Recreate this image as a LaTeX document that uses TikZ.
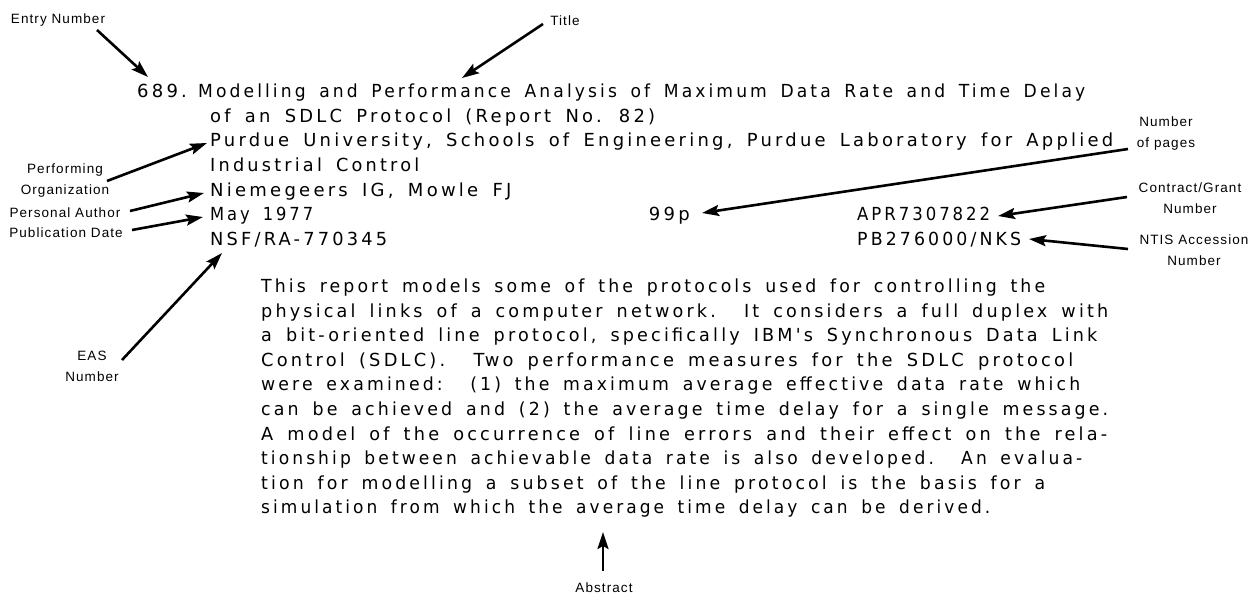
\documentclass[tikz,border=0pt]{standalone}
\usepackage{fontspec}
\usepackage{graphicx}
\setmainfont{DejaVu Sans}
\newfontfamily\typedfont[LetterSpace=18,WordSpace=1.6]{DejaVu Sans}
\newfontfamily\labfont[LetterSpace=8]{Liberation Sans}
\newcommand\fitw[2]{\resizebox{#1pt}{\height}{#2}}
\usetikzlibrary{arrows.meta,calc}
\begin{document}
\begin{tikzpicture}[x=1pt,y=-1pt,
  typed/.style={anchor=base west, inner sep=0pt, font=\typedfont\fontsize{18}{20}\selectfont},
  lab/.style={inner sep=0pt, font=\labfont\fontsize{13.5}{21}\selectfont, align=center},
  arr/.style={line width=2.6pt, -{Stealth[length=17pt,width=11pt,inset=3pt]}},
]
\useasboundingbox (0,0) rectangle (1251,594);

% main entry block
\node[typed] (entry)    at (137,97.5)  {689.};
\node[typed] (title1)   at (198,97.5)  {\fitw{887}{Modelling and Performance Analysis of Maximum Data Rate and Time Delay}};
\node[typed] (title2)   at (210,122.2) {\fitw{445}{of an SDLC Protocol (Report No. 82)}};
\node[typed] (org1)     at (210,146.8) {\fitw{903}{Purdue University, Schools of Engineering, Purdue Laboratory for Applied}};
\node[typed] (org2)     at (210,171.5) {\fitw{209}{Industrial Control}};
\node[typed] (auth)     at (210,196.2) {Niemegeers IG, Mowle FJ};
\node[typed] (date)     at (210,220.8) {\fitw{103}{May 1977}};
\node[typed,anchor=base east] (pages) at (690,220.8) {99p};
\node[typed] (contract) at (857,220.8) {\fitw{133}{APR7307822}};
\node[typed] (eas)      at (210,245.5) {\fitw{177}{NSF/RA-770345}};
\node[typed] (ntis)     at (857,245.5) {\fitw{164}{PB276000/NKS}};

% abstract
\node[typed] (abs1)  at (261,292.5) {\fitw{784}{This report models some of the protocols used for controlling the}};
\node[typed] (abs2)  at (261,317.1) {\fitw{847}{physical links of a computer network.\ \ It considers a full duplex with}};
\node[typed] (abs3)  at (261,341.7) {\fitw{836}{a bit-oriented line protocol, specifically IBM's Synchronous Data Link}};
\node[typed] (abs4)  at (261,366.3) {\fitw{812}{Control (SDLC).\ \ Two performance measures for the SDLC protocol}};
\node[typed] (abs5)  at (261,390.9) {\fitw{819}{were examined:\ \ (1) the maximum average effective data rate which}};
\node[typed] (abs6)  at (261,415.5) {\fitw{847}{can be achieved and (2) the average time delay for a single message.}};
\node[typed] (abs7)  at (261,440.1) {\fitw{846}{A model of the occurrence of line errors and their effect on the rela-}};
\node[typed] (abs8)  at (261,464.7) {\fitw{821}{tionship between achievable data rate is also developed.\ \ An evalua-}};
\node[typed] (abs9)  at (261,489.3) {\fitw{784}{tion for modelling a subset of the line protocol is the basis for a}};
\node[typed] (abs10) at (261,513.9) {\fitw{729}{simulation from which the average time delay can be derived.}};

% labels
\node[lab] (lEntry)    at (58,20)    {Entry Number};
\node[lab] (lTitle)    at (565,21)   {Title};
\node[lab] (lOrg)      at (65,181)   {Performing\\Organization};
\node[lab] (lAuth)     at (65,213)   {Personal Author};
\node[lab] (lDate)     at (66,233)   {Publication Date};
\node[lab] (lEAS)      at (92,366)   {EAS\\Number};
\node[lab] (lPages)    at (1166,134) {Number\\of pages};
\node[lab] (lContract) at (1190,198) {Contract/Grant\\Number};
\node[lab] (lNTIS)     at (1194,250) {NTIS Accession\\Number};
\node[lab] (lAbs)      at (604,588)  {Abstract};

% arrow end points
\coordinate (sEntry) at (97,30);      \coordinate (tEntry) at (148,77);
\coordinate (sTitle) at (543,24);     \coordinate (tTitle) at (462,78);
\coordinate (sOrg) at (107,181);      \coordinate (tOrg) at (207,143);
\coordinate (sAuth) at (130,211);     \coordinate (tAuth) at (204,193);
\coordinate (sDate) at (132,230);     \coordinate (tDate) at (203,217);
\coordinate (sEAS) at (122,360);      \coordinate (tEAS) at (222,253);
\coordinate (sPages) at (1128,149);   \coordinate (tPages) at (702,213);
\coordinate (sContract) at (1127,197);\coordinate (tContract) at (998,216);
\coordinate (sNTIS) at (1128,249);    \coordinate (tNTIS) at (1029,239);
\coordinate (sAbs) at (603,571);      \coordinate (tAbs) at (603,532);

\draw[arr] (sEntry) -- (tEntry);
\draw[arr] (sTitle) -- (tTitle);
\draw[arr] (sOrg) -- (tOrg);
\draw[arr] (sAuth) -- (tAuth);
\draw[arr] (sDate) -- (tDate);
\draw[arr] (sEAS) -- (tEAS);
\draw[arr] (sPages) -- (tPages);
\draw[arr] (sContract) -- (tContract);
\draw[arr] (sNTIS) -- (tNTIS);
\draw[arr] (sAbs) -- (tAbs);
\end{tikzpicture}
\end{document}
